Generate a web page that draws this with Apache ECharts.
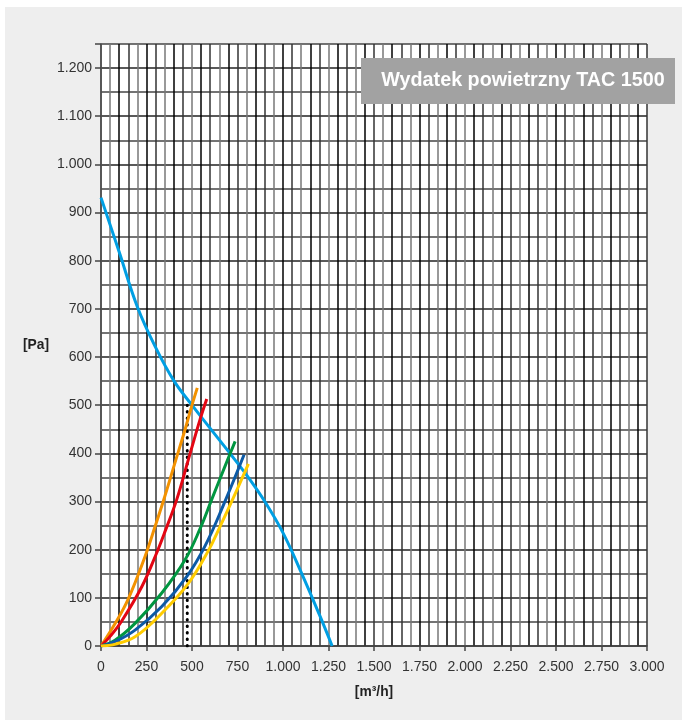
<!DOCTYPE html>
<html>
<head>
<meta charset="utf-8">
<script src="https://cdn.jsdelivr.net/npm/echarts@6/dist/echarts.min.js"></script>
<style>
    html, body { margin: 0; padding: 0; background: #fff; }
    #chart { width: 686px; height: 720px; }
</style>
</head>
<body>
<div id="chart"></div>
<script>
// values, [m3/h, Pa]
const fanCurve = [[0, 931], [100, 818], [200, 704], [300, 620], [400, 551], [500, 500], [600, 452],
    [700, 404], [800, 355], [900, 300], [1000, 235], [1100, 153], [1200, 65], [1270, 0]]
const orangeCurve = [[0, 0], [75, 45], [150, 98], [242, 186], [297, 248], [350, 310], [410, 385],
    [460, 447], [500, 500], [529, 536]]
const redCurve = [[0, 0], [50, 20], [114, 52], [224, 123], [300, 188], [352, 238], [416, 304],
    [480, 387], [544, 470], [581, 513]]
const greenCurve = [[0, 0], [77, 12], [187, 47], [334, 110], [462, 179], [544, 243],
    [608, 304], [680, 372], [737, 425]]
const blueCurve = [[0, 0], [77, 9], [187, 33], [334, 82], [471, 144], [572, 208], [672, 292], [786, 397]]
const yellowCurve = [[0, 0], [80, 4], [187, 19], [334, 68], [480, 130], [590, 198], [654, 248],
    [737, 316], [810, 378]]
const workPoint = [[474, 0], [474, 500]]

const xMax = 3000
const yMax = 1250
const titleText = 'Wydatek powietrzny TAC 1500'
const font = '"Liberation Sans", Arial, sans-serif'

// 1200 -> "1.200"
const fmt = v => v >= 1000 ? Math.floor(v / 1000) + '.' + String(v % 1000).padStart(3, '0') : String(v)

const chart = echarts.init(document.getElementById('chart'))

function curve(data, color) {
    return {
        type: 'line',
        data: data,
        smooth: 0.4,
        showSymbol: false,
        lineStyle: {color: color, width: 3},
        z: 5
    }
}

chart.setOption({
    animation: false,
    graphic: [
        {type: 'rect', shape: {x: 5, y: 7, width: 677, height: 713}, style: {fill: '#eeeeee'}, z: -10},
        {type: 'rect', shape: {x: 361, y: 58, width: 314, height: 46}, style: {fill: '#a2a2a2'}, z: 100},
        {type: 'text', x: 523, y: 80, scaleX: 0.94, z: 101, style: {
            text: titleText, fill: '#fff', font: 'bold 21px ' + font,
            align: 'center', verticalAlign: 'middle'
        }},
        {type: 'text', x: 36, y: 345, scaleX: 0.92, z: 100, style: {
            text: '[Pa]', fill: '#222', font: 'bold 15px ' + font, align: 'center', verticalAlign: 'middle'
        }},
        {type: 'text', x: 374, y: 692, scaleX: 0.92, z: 100, style: {
            text: '[m³/h]', fill: '#222', font: 'bold 15px ' + font, align: 'center', verticalAlign: 'middle'
        }}
    ],
    grid: {
        left: 101, top: 44, right: 39, bottom: 74,
        show: true, backgroundColor: '#fff', borderWidth: 0
    },
    xAxis: [
        {
            type: 'value', min: 0, max: xMax, interval: 250,
            axisLine: {show: true, onZero: false, lineStyle: {color: '#444', width: 1.5}},
            axisTick: {show: true, length: 5, lineStyle: {color: '#444', width: 1.5}},
            axisLabel: {formatter: fmt, color: '#333', fontFamily: font, fontSize: 14, margin: 14},
            splitLine: {show: false}
        },
        {
            type: 'value', min: 0, max: xMax, interval: 50, position: 'bottom',
            axisLine: {show: false}, axisTick: {show: false}, axisLabel: {show: false},
            splitLine: {show: true, lineStyle: {color: ['#333', '#777', '#000'], width: 1.5}}
        }
    ],
    yAxis: [
        {
            type: 'value', min: 0, max: yMax, interval: 100,
            axisLine: {show: true, lineStyle: {color: '#555', width: 1.5}},
            axisTick: {show: true, length: 6, lineStyle: {color: '#444', width: 1.5}},
            axisLabel: {
                formatter: v => v > 1200 ? '' : fmt(v),
                color: '#333', fontFamily: font, fontSize: 14, margin: 9
            },
            splitLine: {show: false}
        },
        {
            type: 'value', min: 0, max: yMax, interval: 50, position: 'left',
            axisLine: {show: false}, axisTick: {show: false}, axisLabel: {show: false},
            splitLine: {show: true, lineStyle: {color: ['#222', '#444'], width: 1.5}}
        }
    ],
    series: [
        curve(fanCurve, '#009fe3'),
        curve(orangeCurve, '#f39200'),
        curve(redCurve, '#e30613'),
        curve(greenCurve, '#009640'),
        curve(blueCurve, '#0c5aa6'),
        curve(yellowCurve, '#ffcc00'),
        {
            type: 'line',
            data: workPoint,
            showSymbol: false,
            lineStyle: {color: '#000', width: 3, type: [0.5, 6], cap: 'round'},
            z: 4
        }
    ]
})
</script>
</body>
</html>
